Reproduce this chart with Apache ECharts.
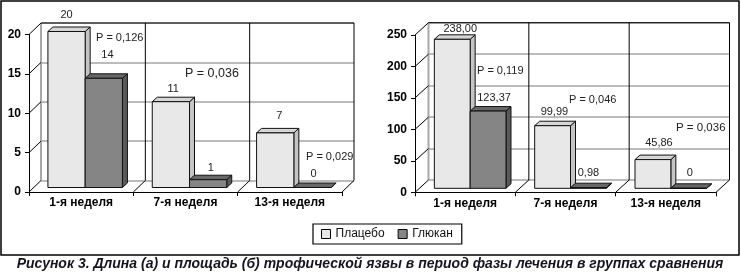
<!DOCTYPE html>
<html>
<head>
<meta charset="utf-8">
<script src="https://cdn.jsdelivr.net/npm/echarts@6/dist/echarts.min.js"></script>
<style>
html,body{margin:0;padding:0;background:#fff;}
#c{width:741px;height:273px;}
</style>
</head>
<body>
<div id="c"></div>
<script>
// ---------- DATA ----------
const categories = ['1-я неделя', '7-я неделя', '13-я неделя'];
const seriesNames = ['Плацебо', 'Глюкан'];
const lengthPlacebo = [20, 11, 7];
const lengthGlucan = [14, 1, 0];
const areaPlacebo = [238.00, 99.99, 45.86];
const areaGlucan = [123.37, 0.98, 0];
const lengthTicks = [0, 5, 10, 15, 20];
const areaTicks = [0, 50, 100, 150, 200, 250];
const lengthPText = ['P = 0,126', 'P = 0,036', 'P = 0,029'];
const areaPText = ['P = 0,119', 'P = 0,046', 'P = 0,036'];
const captionText = 'Рисунок 3. Длина (а) и площадь (б) трофической язвы в период фазы лечения в группах сравнения';

// ---------- STYLE / LAYOUT ----------
const FONT = '"Liberation Sans", Arial, sans-serif';
const BAR_COLORS = [
  {front: '#e8e8e8', side: '#c4c4c4', top: '#d6d6d6'},
  {front: '#858585', side: '#5a5a5a', top: '#676767'}
];
const BAR_FRAC = 0.357;
const BAR_DEPTH = [5, -4.5];
const LABEL_BASE = [2.5, -14];
// per-label fine offsets [dx, dy] (style only)
const labelAdjLeft = [
  [[-2.5, -2.5], [-0.2, 1.6], [1.5, -2.9]],
  [[1.1, -9.3], [0.2, 2], [-1.5, 0]]
];
const labelAdjRight = [
  [[5.5, 4], [-0.7, 0], [3.5, -2.3]],
  [[3.5, 1.2], [-2.5, -1], [-1.5, -1]]
];

const L = {back: {left: 41, top: 23, width: 313, height: 157.5}, dx: 12, dy: 11.5,
           bars: {left: 33, top: 31.5, width: 313, height: 156}};
const R = {back: {left: 428.5, top: 22.7, width: 301, height: 157.3}, dx: 13.5, dy: 12.3,
           bars: {left: 420, top: 31.8, width: 301, height: 156.5}};

function frontOf(cfg) {
  return {left: cfg.back.left - cfg.dx, top: cfg.back.top + cfg.dy,
          width: cfg.back.width, height: cfg.back.height};
}

function fmtLen(v) { return String(v); }
function fmtArea(v) { return v === 0 ? '0' : v.toFixed(2).replace('.', ','); }

function frameRender(ticks, dx, dy) {
  return function (params, api) {
    const band = api.size([1, 0])[0];
    const n = categories.length;
    const x0 = api.coord([0, 0])[0] - band / 2;
    const x3 = x0 + n * band;
    const yBot = api.coord([0, ticks[0]])[1];
    const yTop = api.coord([0, ticks[ticks.length - 1]])[1];
    const ch = [];
    const line = (a, b, c, d, col, w) => ch.push({type: 'line', shape: {x1: a, y1: b, x2: c, y2: d},
      style: {stroke: col, lineWidth: w}, silent: true});
    line(x0, yTop, x0, yBot, '#a8a8a8', 2);
    for (let k = 1; k < n; k++) line(x0 + k * band, yTop, x0 + k * band, yBot, '#000', 1);
    line(x3, yTop, x3, yBot, '#000', 1);
    line(x0, yTop, x3, yTop, '#000', 1);
    ticks.forEach(t => {
      const y = api.coord([0, t])[1];
      line(x0, y, x0 - dx, y + dy, '#000', 1);
    });
    for (let k = 1; k <= n; k++) line(x0 + k * band, yBot, x0 + k * band - dx, yBot + dy, '#000', 1);
    return {type: 'group', children: ch};
  };
}

function barRender(sIdx, adj, fmt) {
  return function (params, api) {
    const i = api.value(0), v = api.value(1);
    const top = api.coord([i, v]);
    const base = api.coord([i, 0]);
    const band = api.size([1, 0])[0];
    const w = band * BAR_FRAC;
    const xL = top[0] - w + sIdx * w, xR = xL + w;
    const yT = top[1], yB = base[1];
    const ddx = BAR_DEPTH[0], ddy = BAR_DEPTH[1];
    const col = BAR_COLORS[sIdx];
    const st = (f) => ({fill: f, stroke: '#111', lineWidth: 1, lineJoin: 'miter'});
    const a = adj[sIdx][params.dataIndex];
    return {type: 'group', children: [
      {type: 'polygon', shape: {points: [[xR, yT], [xR + ddx, yT + ddy], [xR + ddx, yB + ddy], [xR, yB]]}, style: st(col.side)},
      {type: 'polygon', shape: {points: [[xL, yT], [xR, yT], [xR + ddx, yT + ddy], [xL + ddx, yT + ddy]]}, style: st(col.top)},
      {type: 'rect', shape: {x: xL, y: yT, width: w, height: yB - yT}, style: st(col.front)},
      {type: 'text', x: (xL + xR) / 2 + LABEL_BASE[0] + a[0], y: yT + LABEL_BASE[1] + a[1],
        style: {text: fmt(v), fontSize: 11, fontFamily: FONT, fill: '#222', align: 'center', verticalAlign: 'middle'}, z2: 10}
    ]};
  };
}

function axesFor(cfg, gi, ticks) {
  const max = ticks[ticks.length - 1], interval = ticks[1] - ticks[0];
  const xs = [], ys = [];
  xs.push({type: 'category', gridIndex: gi, data: categories, show: false});
  ys.push({type: 'value', gridIndex: gi, min: 0, max: max, interval: interval,
    axisLine: {show: false}, axisTick: {show: false}, axisLabel: {show: false},
    splitLine: {show: true, lineStyle: {color: '#a4a4a4', width: 1.5}}});
  xs.push({type: 'category', gridIndex: gi + 1, data: categories, boundaryGap: true,
    axisLine: {show: true, lineStyle: {color: '#000', width: 1}},
    axisTick: {show: true, length: 4, lineStyle: {color: '#000'}},
    axisLabel: {margin: 5, fontSize: 12, fontWeight: 'bold', color: '#000', fontFamily: FONT},
    splitLine: {show: false}});
  ys.push({type: 'value', gridIndex: gi + 1, min: 0, max: max, interval: interval,
    axisLine: {show: true, lineStyle: {color: '#000', width: 1}},
    axisTick: {show: true, length: 4, lineStyle: {color: '#000'}},
    axisLabel: {margin: 8, fontSize: 12, fontWeight: 'bold', color: '#000', fontFamily: FONT},
    splitLine: {show: false}});
  xs.push({type: 'category', gridIndex: gi + 2, data: categories, show: false});
  ys.push({type: 'value', gridIndex: gi + 2, min: 0, max: max, show: false, splitLine: {show: false}});
  return {xs, ys};
}

const axL = axesFor(L, 0, lengthTicks);
const axR = axesFor(R, 3, areaTicks);

const g = (o) => Object.assign({containLabel: false}, o);

function pText(text, x, y, size) {
  return {type: 'text', x: x, y: y, silent: true,
    style: {text: text, fontSize: size, fontFamily: FONT, fill: '#222', align: 'left', verticalAlign: 'middle'}};
}

const option = {
  backgroundColor: '#fff',
  animation: false,
  grid: [g(L.back), g(frontOf(L)), g(L.bars), g(R.back), g(frontOf(R)), g(R.bars)],
  xAxis: axL.xs.concat(axR.xs),
  yAxis: axL.ys.concat(axR.ys),
  legend: {
    left: 313, top: 224, orient: 'horizontal',
    padding: [4, 9, 4, 8], itemWidth: 9, itemHeight: 9, itemGap: 13,
    borderColor: '#000', borderWidth: 1.2, icon: 'rect',
    textStyle: {fontSize: 12, fontFamily: FONT, color: '#111'},
    data: [
      {name: seriesNames[0], itemStyle: {color: BAR_COLORS[0].front, borderColor: '#000', borderWidth: 1}},
      {name: seriesNames[1], itemStyle: {color: BAR_COLORS[1].front, borderColor: '#000', borderWidth: 1}}
    ]
  },
  series: [
    {type: 'custom', xAxisIndex: 0, yAxisIndex: 0, data: [[0, 0]], renderItem: frameRender(lengthTicks, L.dx, L.dy), silent: true, clip: false},
    {type: 'custom', xAxisIndex: 3, yAxisIndex: 3, data: [[0, 0]], renderItem: frameRender(areaTicks, R.dx, R.dy), silent: true, clip: false},
    {type: 'custom', name: seriesNames[0], xAxisIndex: 2, yAxisIndex: 2, clip: false,
      itemStyle: {color: BAR_COLORS[0].front},
      data: lengthPlacebo.map((v, i) => [i, v]), renderItem: barRender(0, labelAdjLeft, fmtLen)},
    {type: 'custom', name: seriesNames[1], xAxisIndex: 2, yAxisIndex: 2, clip: false,
      itemStyle: {color: BAR_COLORS[1].front},
      data: lengthGlucan.map((v, i) => [i, v]), renderItem: barRender(1, labelAdjLeft, fmtLen)},
    {type: 'custom', name: seriesNames[0], xAxisIndex: 5, yAxisIndex: 5, clip: false,
      itemStyle: {color: BAR_COLORS[0].front},
      data: areaPlacebo.map((v, i) => [i, v]), renderItem: barRender(0, labelAdjRight, fmtArea)},
    {type: 'custom', name: seriesNames[1], xAxisIndex: 5, yAxisIndex: 5, clip: false,
      itemStyle: {color: BAR_COLORS[1].front},
      data: areaGlucan.map((v, i) => [i, v]), renderItem: barRender(1, labelAdjRight, fmtArea)}
  ],
  graphic: [
    {type: 'rect', silent: true, shape: {x: 1, y: 1, width: 738, height: 254},
      style: {fill: 'none', stroke: '#000', lineWidth: 1.5}},
    pText(lengthPText[0], 96, 37.5, 11),
    pText(lengthPText[1], 185, 74, 12.5),
    pText(lengthPText[2], 306, 157, 11),
    pText(areaPText[0], 477, 71, 11),
    pText(areaPText[1], 569, 99.5, 11),
    pText(areaPText[2], 676, 127.5, 11.5),
    {type: 'text', x: 370, y: 264.5, silent: true,
      style: {text: captionText, fontSize: 14, fontWeight: 'bold', fontStyle: 'italic', fontFamily: FONT,
        fill: '#151520', align: 'center', verticalAlign: 'middle'}}
  ]
};

const chart = echarts.init(document.getElementById('c'), null, {renderer: 'canvas'});
chart.setOption(option);
</script>
</body>
</html>
